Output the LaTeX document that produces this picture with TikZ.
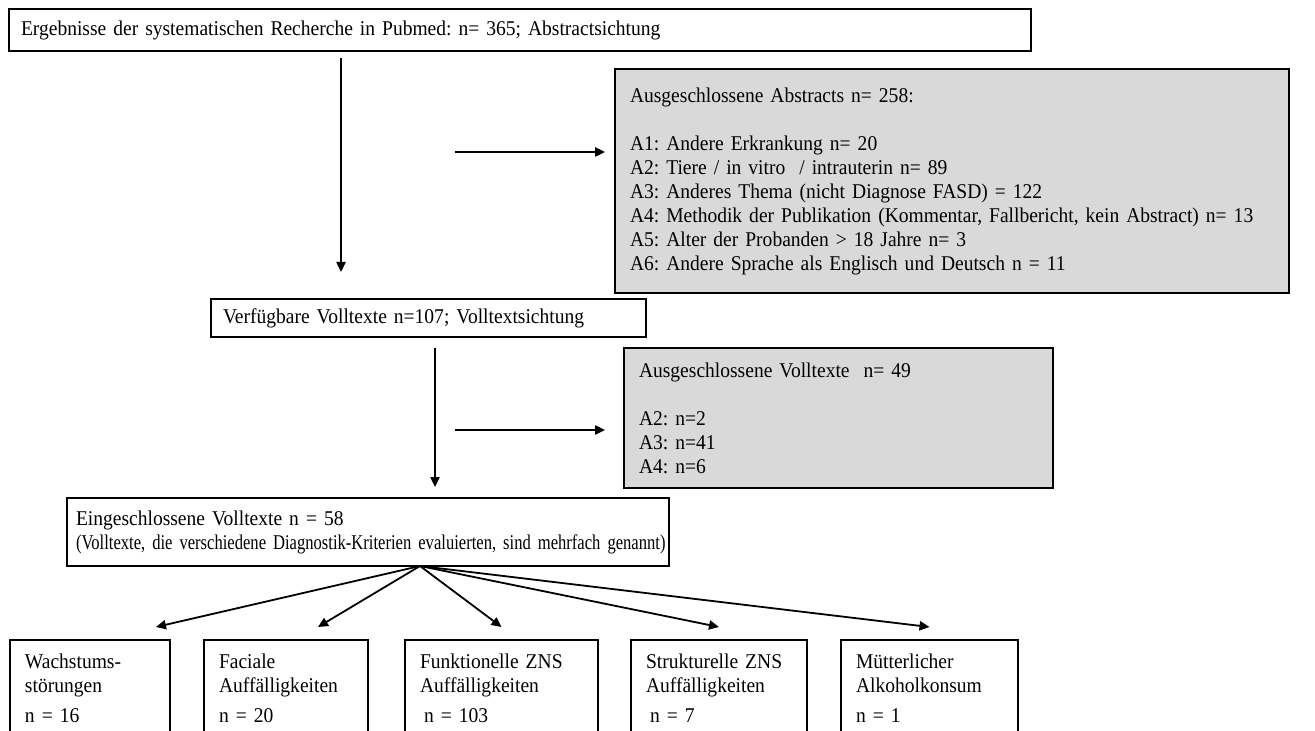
\documentclass[tikz,border=0pt]{standalone}
\usepackage{fontspec}
\setmainfont{Liberation Serif}[FakeStretch=0.93]
\newfontfamily\narrowserif{Liberation Serif}[FakeStretch=0.79]
\usepackage{tikz}
\usetikzlibrary{arrows.meta,positioning,calc}
\definecolor{boxgray}{HTML}{D9D9D9}
\frenchspacing
\newcommand\boxfont{\fontsize{10.5}{12}\selectfont}
\tikzset{
  box/.style={draw,line width=1pt,anchor=north west,align=left,inner xsep=6pt,inner ysep=0pt,font=\boxfont},
  graybox/.style={box,fill=boxgray,inner xsep=7.5pt},
  leaf/.style={box,inner xsep=7.5pt,inner ysep=7pt},
  arr/.style={-{Triangle[length=5pt,width=4.6pt]},line width=0.9pt}
}
\begin{document}
\begin{tikzpicture}[x=0.5pt,y=-0.5pt]
\useasboundingbox (0,0) rectangle (1315,731);
\clip (0,0) rectangle (1315,731);
% boxes
\node[box,text width=499pt,minimum height=21pt] (search) at (8,8)
  {Ergebnisse der systematischen Recherche in Pubmed: n= 365; Abstractsichtung};
\node[graybox,text width=322pt,minimum height=112pt] (exabs) at (614,68)
  {Ausgeschlossene Abstracts n= 258:\\[12pt]
   A1: Andere Erkrankung n= 20\\
   A2: Tiere / in vitro~ / intrauterin n= 89\\
   A3: Anderes Thema (nicht Diagnose FASD) = 122\\
   A4: Methodik der Publikation (Kommentar, Fallbericht, kein Abstract) n= 13\\
   A5: Alter der Probanden > 18 Jahre n= 3\\
   A6: Andere Sprache als Englisch und Deutsch n = 11};
\node[box,text width=205.5pt,minimum height=19pt] (avail) at (210,298)
  {Verfügbare Volltexte n=107; Volltextsichtung};
\node[graybox,text width=199.5pt,minimum height=70pt] (exfull) at (623,347)
  {Ausgeschlossene Volltexte~ n= 49\\[12pt]
   A2: n=2\\
   A3: n=41\\
   A4: n=6};
\node[box,inner xsep=4.5pt,text width=292pt,minimum height=34pt] (incl) at (66,497)
  {Eingeschlossene Volltexte n = 58\\
   \mbox{\narrowserif (Volltexte, die verschiedene Diagnostik-Kriterien evaluierten, sind mehrfach genannt)}};
% criteria
\node[leaf,text width=65pt] (growth) at (9,639) {Wachstums-\\störungen\\[3pt]n = 16};
\node[leaf,text width=67pt] (face) at (203,639) {Faciale\\Auffälligkeiten\\[3pt]n = 20};
\node[leaf,text width=81.5pt] (fcns) at (404,639) {Funktionelle ZNS\\Auffälligkeiten\\[3pt]\hspace{2pt}n = 103};
\node[leaf,text width=73pt] (scns) at (630,639) {Strukturelle ZNS\\Auffälligkeiten\\[3pt]\hspace{2pt}n = 7};
\node[leaf,text width=73.5pt] (alc) at (840,639) {Mütterlicher\\Alkoholkonsum\\[3pt]n = 1};
% connectors
\coordinate (d1) at (341,58);
\coordinate (r1) at (455,152);
\coordinate (d2) at (435,348);
\coordinate (r2) at (455,430);
\coordinate (fan) at (420,566);
\draw[arr,shorten >=13pt] (d1) -- (d1 |- avail.north);
\draw[arr,shorten >=4.5pt] (r1) -- (r1 -| exabs.west);
\draw[arr,shorten >=5pt] (d2) -- (d2 |- incl.north);
\draw[arr,shorten >=9pt] (r2) -- (r2 -| exfull.west);
\draw[arr] (fan) -- ([xshift=33pt,yshift=6pt]growth.north);
\draw[arr] (fan) -- ([xshift=16pt,yshift=6pt]face.north);
\draw[arr] (fan) -- ([yshift=6pt]fcns.north);
\draw[arr] (fan) -- ([yshift=6pt]scns.north);
\draw[arr] (fan) -- ([yshift=6pt]alc.north);
\end{tikzpicture}
\end{document}
